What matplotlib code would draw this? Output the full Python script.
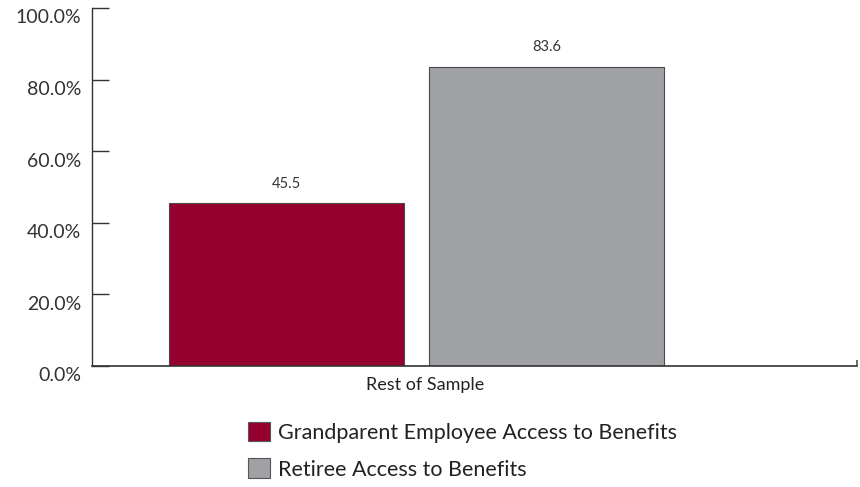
import matplotlib.pyplot as plt
import matplotlib.transforms as mtransforms
from matplotlib.patches import Patch

plt.rcParams['font.family'] = ['Lato', 'DejaVu Sans']

category = "Rest of Sample"
series = ["Grandparent Employee Access to Benefits", "Retiree Access to Benefits"]
values = [45.5, 83.6]
colors = ["#96002e", "#a0a1a5"]
y_ticks = [0, 20, 40, 60, 80, 100]

fig = plt.figure(figsize=(8.6, 4.87), dpi=100)
ax = fig.add_axes([0.107, 0.2485, 0.8895, 0.7351])

width = 0.4
offsets = [-0.2213, 0.2213]
for off, val, col in zip(offsets, values, colors):
    ax.bar(off, val, width=width, color=col, edgecolor="#4a4a4a", linewidth=0.8)
    ax.text(off, val + 3.5, f"{val:.1f}", ha='center', va='bottom',
            fontsize=10.5, color="#333333")

xmin, xmax = -0.5523, 0.7498
ax.set_xlim(xmin, xmax)
ax.set_ylim(0, 100)

ax.set_yticks(y_ticks)
ax.set_yticklabels([f"{t:.1f}%" for t in y_ticks], fontsize=14, color="#333333")
ax.tick_params(axis='y', direction='in', length=12, width=1, color="#333333", pad=8)
# labels sit a little below their tick marks
shift = mtransforms.ScaledTranslation(0, -6 / 72, fig.dpi_scale_trans)
for lab in ax.get_yticklabels():
    lab.set_transform(lab.get_transform() + shift)

ax.set_xticks([0.015])
ax.set_xticklabels([category], fontsize=13, color="#222222")
ax.tick_params(axis='x', length=0, pad=8)
ax.set_xticks([xmax], minor=True)
ax.tick_params(axis='x', which='minor', direction='in', length=4, width=1.2, color="#555555")

for side in ['top', 'right']:
    ax.spines[side].set_visible(False)
ax.spines['left'].set_color("#333333")
ax.spines['bottom'].set_color("#333333")
ax.spines['left'].set_linewidth(1.0)
ax.spines['bottom'].set_linewidth(1.2)

handles = [Patch(facecolor=c, edgecolor="#555555", linewidth=0.8) for c in colors]
fig.legend(handles, series, loc='upper left', bbox_to_anchor=(0.288, 0.134),
           frameon=False, fontsize=15.5, handlelength=1.02, handleheight=1.02,
           handletextpad=0.4, labelspacing=0.72, borderaxespad=0, borderpad=0,
           labelcolor="#222222")

fig.savefig("out.png", dpi=100)
